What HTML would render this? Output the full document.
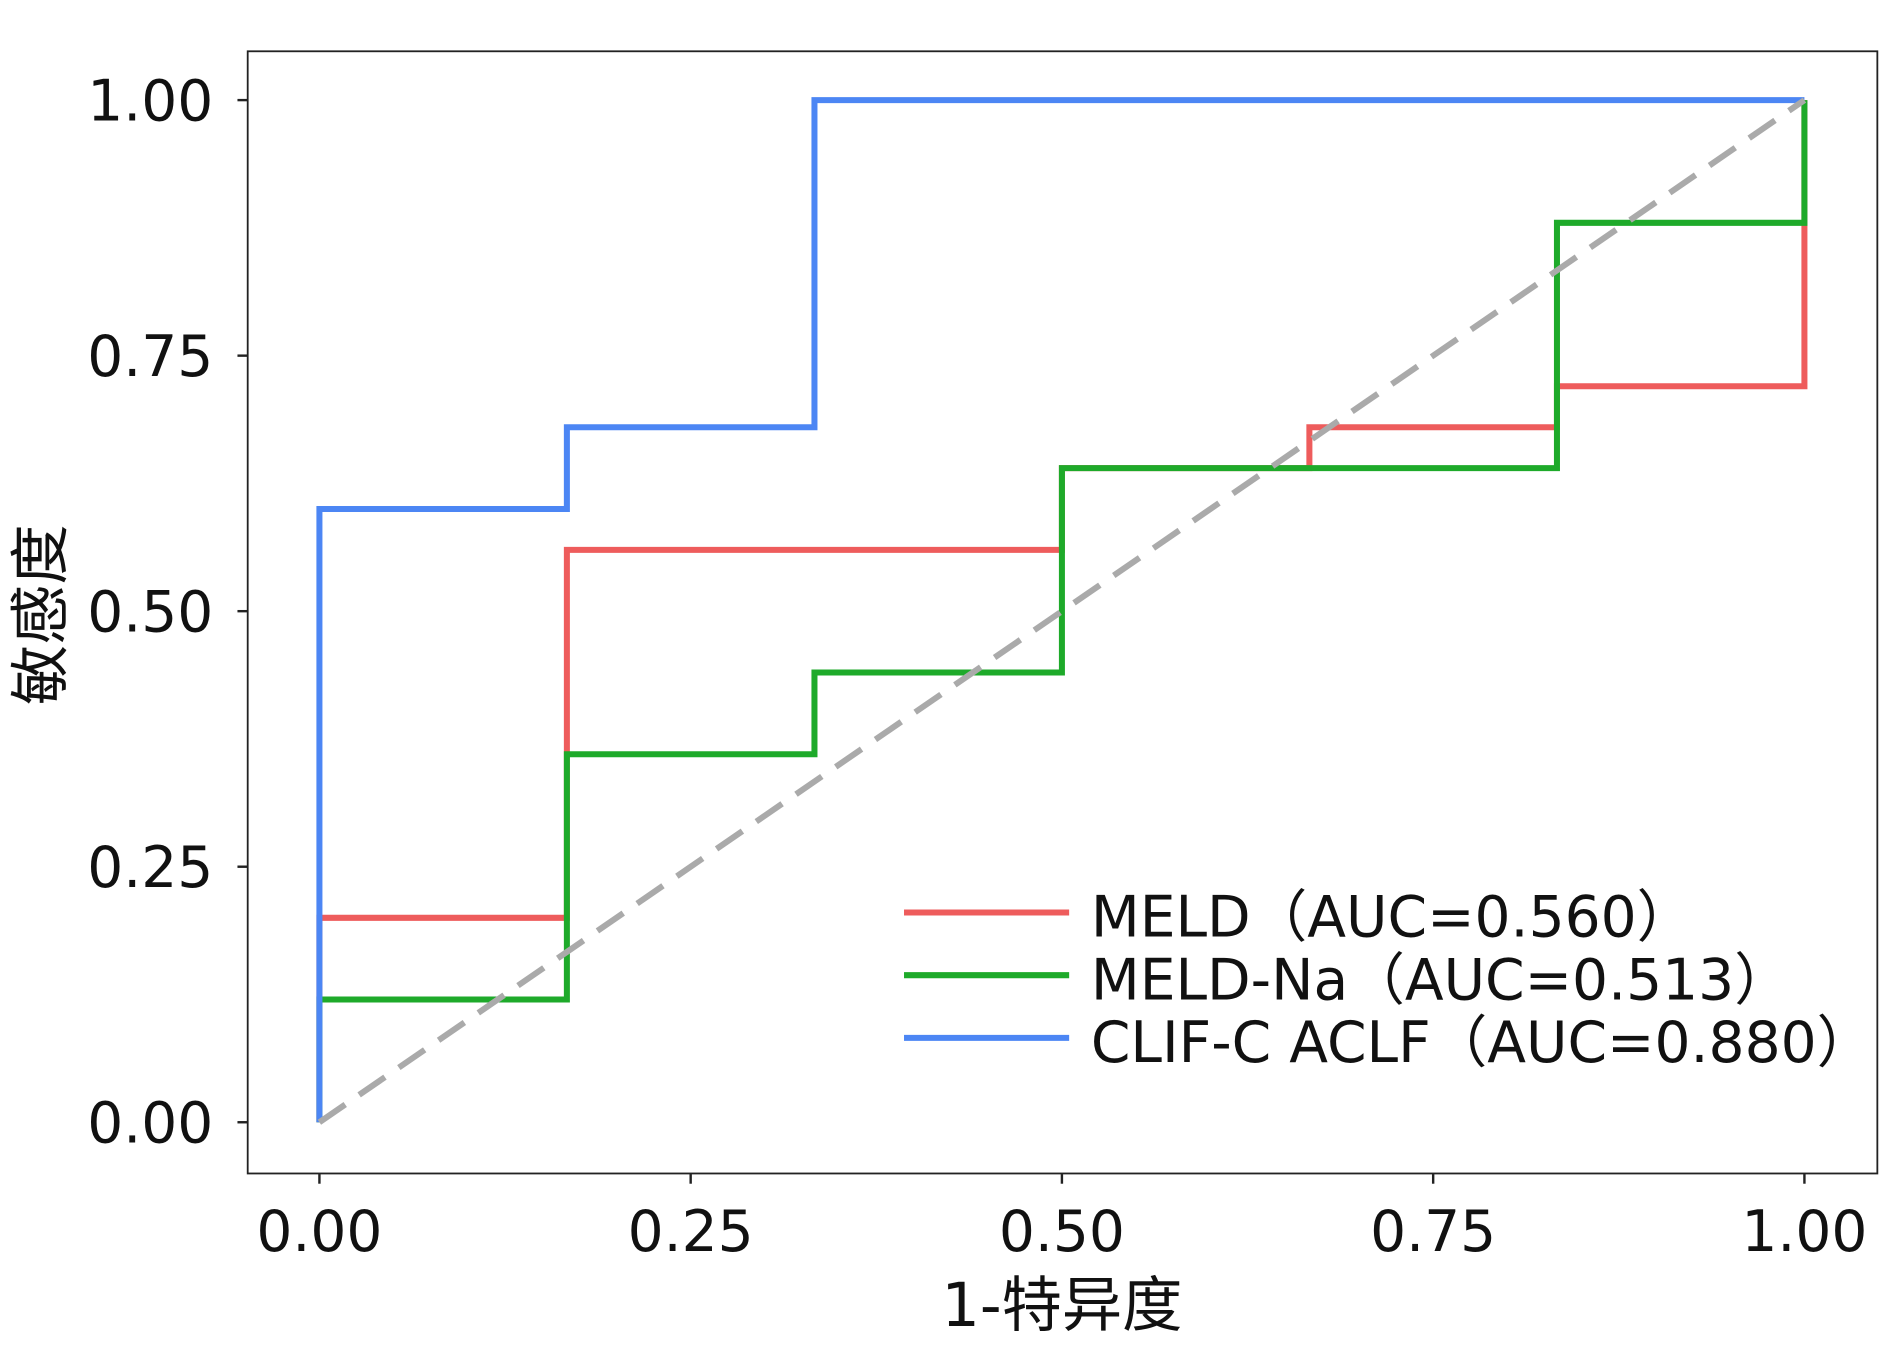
<!DOCTYPE html>
<html><head><meta charset="utf-8"><style>html,body{margin:0;padding:0;background:#fff}</style></head>
<body>
<svg width="1890" height="1367" viewBox="0 0 1568 1134" xmlns="http://www.w3.org/2000/svg" font-family="'DejaVu Sans','Noto Sans CJK SC',sans-serif">
<rect x="0" y="0" width="1568" height="1134" fill="#fff"/>
<rect x="205.5" y="42.5" width="1352" height="931" fill="none" stroke="#222" stroke-width="1.5"/>
<g stroke="#222" stroke-width="2">
<line x1="197" y1="83" x2="205" y2="83"/><line x1="197" y1="295" x2="205" y2="295"/><line x1="197" y1="507" x2="205" y2="507"/><line x1="197" y1="719" x2="205" y2="719"/><line x1="197" y1="931" x2="205" y2="931"/>
<line x1="265" y1="974" x2="265" y2="982"/><line x1="573" y1="974" x2="573" y2="982"/><line x1="881" y1="974" x2="881" y2="982"/><line x1="1189" y1="974" x2="1189" y2="982"/><line x1="1497" y1="974" x2="1497" y2="982"/>
</g>
<g font-size="47" fill="#111" text-anchor="end">
<text x="177" y="100">1.00</text><text x="177" y="312">0.75</text><text x="177" y="524">0.50</text><text x="177" y="736">0.25</text><text x="177" y="948">0.00</text>
</g>
<g font-size="47" fill="#111" text-anchor="middle">
<text x="265" y="1038">0.00</text><text x="573" y="1038">0.25</text><text x="881" y="1038">0.50</text><text x="1189" y="1038">0.75</text><text x="1497" y="1038">1.00</text>
<text x="881" y="1100" font-size="50">1-特异度</text>
<text transform="translate(51,510) rotate(-90)" font-size="50">敏感度</text>
</g>
<g fill="none" stroke-width="5" stroke-linejoin="miter">
<polyline stroke="#EE5C5C" points="265,931 265,761.4 470.3,761.4 470.3,456.1 881,456.1 881,388.3 1086.3,388.3 1086.3,354.4 1291.7,354.4 1291.7,320.4 1497,320.4 1497,83"/>
<polyline stroke="#1EAA2A" points="265,931 265,829.2 470.3,829.2 470.3,625.7 675.7,625.7 675.7,557.9 881,557.9 881,388.3 1291.7,388.3 1291.7,184.8 1497,184.8 1497,83"/>
<polyline stroke="#4C86F4" points="265,931 265,422.2 470.3,422.2 470.3,354.4 675.7,354.4 675.7,83 1497,83"/>
<line x1="265" y1="931" x2="1497" y2="83" stroke="#AAAAAA" stroke-dasharray="26,14"/>
<line x1="750" y1="757" x2="887" y2="757" stroke="#EE5C5C"/>
<line x1="750" y1="809" x2="887" y2="809" stroke="#1EAA2A"/>
<line x1="750" y1="861" x2="887" y2="861" stroke="#4C86F4"/>
</g>
<g font-size="47" fill="#111">
<text x="905" y="777">MELD（AUC=0.560）</text>
<text x="905" y="829">MELD-Na（AUC=0.513）</text>
<text x="905" y="881">CLIF-C ACLF（AUC=0.880）</text>
</g>
</svg>
</body></html>
